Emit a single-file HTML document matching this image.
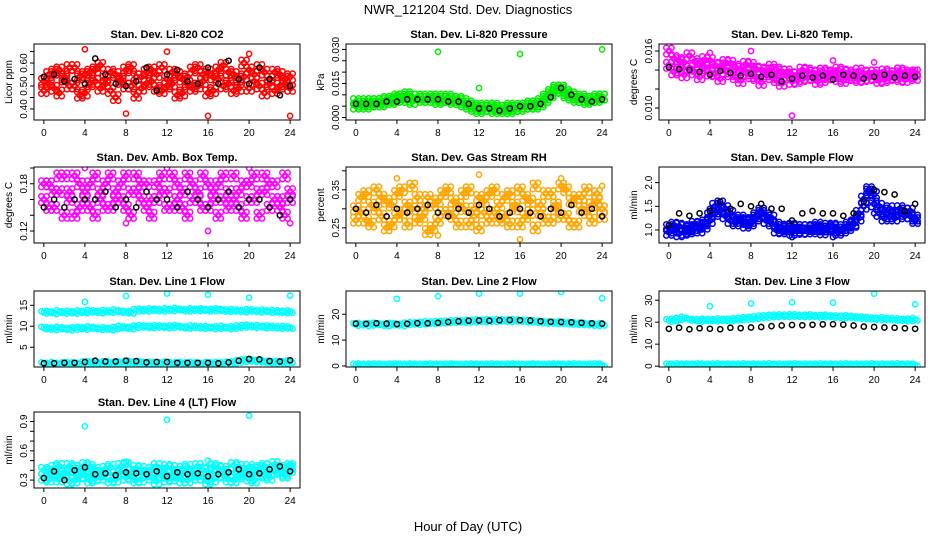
<!DOCTYPE html>
<html><head><meta charset="utf-8"><style>
html,body{margin:0;padding:0;background:#fff;}
svg{display:block;font-family:"Liberation Sans",Arial,sans-serif;}
</style></head><body>
<svg id="chart" width="936" height="540" viewBox="0 0 936 540">
<text x="468" y="14" text-anchor="middle" font-size="13">NWR_121204  Std. Dev. Diagnostics</text>
<text x="468" y="531" text-anchor="middle" font-size="13">Hour of Day (UTC)</text>
</svg>
<script>
// ---- data ----
const xTicks = [0,4,8,12,16,20,24];
const halfHours = [0,0.5,1,1.5,2,2.5,3,3.5,4,4.5,5,5.5,6,6.5,7,7.5,8,8.5,9,9.5,10,10.5,11,11.5,12,12.5,13,13.5,14,14.5,15,15.5,16,16.5,17,17.5,18,18.5,19,19.5,20,20.5,21,21.5,22,22.5,23,23.5,24];
const hours = [0,1,2,3,4,5,6,7,8,9,10,11,12,13,14,15,16,17,18,19,20,21,22,23,24];
const outlierHours = [4,8,12,16,20,24];

const co2A = [0.52,0.55,0.49,0.57,0.53,0.50,0.58,0.54,0.47,0.56,0.52,0.59,0.51,0.48,0.55,0.53,0.57,0.50,0.46,0.54,0.56,0.52,0.49,0.58,0.53,0.51,0.55,0.47,0.54,0.57,0.50,0.52,0.56,0.48,0.53,0.59,0.51,0.55,0.49,0.54,0.57,0.52,0.50,0.56,0.53,0.48,0.55,0.51,0.54];
const co2B = [0.48,0.51,0.56,0.47,0.54,0.58,0.50,0.46,0.55,0.51,0.57,0.49,0.53,0.56,0.45,0.52,0.50,0.58,0.54,0.49,0.51,0.57,0.55,0.48,0.50,0.56,0.46,0.53,0.51,0.49,0.58,0.55,0.47,0.54,0.57,0.50,0.56,0.48,0.53,0.60,0.49,0.55,0.58,0.47,0.51,0.56,0.50,0.53,0.49];
const co2Black = [0.54,0.55,0.52,0.53,0.51,0.62,0.55,0.51,0.50,0.52,0.58,0.48,0.55,0.57,0.52,0.51,0.58,0.51,0.61,0.53,0.51,0.58,0.53,0.46,0.50];
const co2Out = [0.66,0.38,0.65,0.37,0.64,0.37];

const presA = [0.007,0.006,0.007,0.007,0.007,0.006,0.008,0.008,0.008,0.009,0.008,0.009,0.009,0.008,0.009,0.008,0.009,0.008,0.009,0.008,0.008,0.007,0.006,0.005,0.005,0.004,0.004,0.005,0.004,0.004,0.005,0.004,0.005,0.005,0.005,0.006,0.006,0.008,0.010,0.012,0.013,0.011,0.010,0.009,0.009,0.008,0.008,0.009,0.009];
const presB = [0.005,0.006,0.005,0.006,0.006,0.007,0.008,0.007,0.009,0.008,0.010,0.007,0.009,0.008,0.008,0.009,0.007,0.008,0.008,0.007,0.008,0.006,0.005,0.004,0.003,0.004,0.005,0.003,0.004,0.003,0.003,0.004,0.004,0.005,0.006,0.005,0.007,0.009,0.011,0.013,0.012,0.010,0.009,0.008,0.008,0.007,0.008,0.008,0.009];
const presBlack = [0.006,0.006,0.006,0.007,0.007,0.008,0.008,0.008,0.008,0.007,0.007,0.006,0.004,0.004,0.003,0.004,0.005,0.005,0.006,0.009,0.013,0.010,0.008,0.007,0.008];
const presOut = [0.010,0.029,0.013,0.028,0.013,0.030];

const tempA = [0.0145,0.0152,0.0140,0.0148,0.0155,0.0138,0.0146,0.0142,0.0150,0.0136,0.0144,0.0139,0.0147,0.0133,0.0141,0.0137,0.0145,0.0132,0.0140,0.0136,0.0143,0.0130,0.0138,0.0134,0.0128,0.0135,0.0131,0.0139,0.0133,0.0136,0.0130,0.0137,0.0134,0.0131,0.0138,0.0133,0.0135,0.0130,0.0136,0.0132,0.0137,0.0134,0.0130,0.0136,0.0133,0.0131,0.0137,0.0134,0.0132];
const tempB = [0.0160,0.0138,0.0150,0.0135,0.0142,0.0149,0.0133,0.0151,0.0137,0.0145,0.0131,0.0148,0.0136,0.0143,0.0129,0.0146,0.0134,0.0141,0.0127,0.0139,0.0133,0.0140,0.0126,0.0138,0.0135,0.0129,0.0140,0.0132,0.0137,0.0128,0.0139,0.0133,0.0136,0.0140,0.0129,0.0137,0.0132,0.0139,0.0131,0.0137,0.0133,0.0129,0.0138,0.0132,0.0136,0.0139,0.0130,0.0135,0.0137];
const tempBlack = [0.0143,0.0141,0.0140,0.0138,0.0135,0.0139,0.0137,0.0134,0.0136,0.0133,0.0135,0.0128,0.0131,0.0134,0.0132,0.0134,0.0130,0.0135,0.0134,0.0131,0.0133,0.0135,0.0132,0.0134,0.0133];
const tempOut = [0.0158,0.0160,0.0092,0.0150,0.0148,0.0140];

const boxA = [0.16,0.18,0.15,0.17,0.19,0.16,0.14,0.18,0.17,0.15,0.19,0.16,0.18,0.15,0.17,0.16,0.19,0.14,0.17,0.18,0.15,0.16,0.18,0.17,0.15,0.19,0.16,0.17,0.14,0.18,0.16,0.19,0.15,0.17,0.18,0.16,0.15,0.19,0.17,0.14,0.18,0.16,0.17,0.19,0.15,0.18,0.16,0.14,0.17];
const boxB = [0.18,0.15,0.17,0.19,0.14,0.17,0.19,0.15,0.16,0.18,0.14,0.17,0.15,0.19,0.16,0.18,0.15,0.17,0.19,0.16,0.18,0.14,0.16,0.19,0.17,0.15,0.18,0.15,0.19,0.16,0.17,0.15,0.18,0.16,0.14,0.19,0.17,0.16,0.15,0.18,0.16,0.19,0.14,0.17,0.18,0.16,0.15,0.19,0.16];
const boxBlack = [0.15,0.16,0.15,0.16,0.16,0.16,0.17,0.15,0.16,0.15,0.17,0.16,0.16,0.15,0.17,0.16,0.15,0.16,0.17,0.15,0.16,0.16,0.15,0.14,0.16];
const boxOut = [0.20,0.13,0.20,0.12,0.20,0.13];

const rhA = [0.30,0.33,0.27,0.31,0.35,0.28,0.32,0.26,0.34,0.29,0.31,0.36,0.27,0.30,0.33,0.25,0.32,0.29,0.35,0.28,0.31,0.34,0.26,0.30,0.33,0.29,0.27,0.35,0.31,0.28,0.34,0.30,0.26,0.33,0.29,0.36,0.31,0.27,0.34,0.30,0.28,0.35,0.32,0.26,0.33,0.29,0.31,0.34,0.28];
const rhB = [0.27,0.29,0.34,0.26,0.30,0.33,0.25,0.31,0.28,0.35,0.26,0.30,0.33,0.28,0.24,0.31,0.27,0.34,0.29,0.32,0.26,0.30,0.35,0.28,0.25,0.32,0.34,0.29,0.27,0.33,0.26,0.31,0.35,0.28,0.32,0.25,0.29,0.34,0.27,0.31,0.36,0.28,0.26,0.33,0.30,0.35,0.27,0.32,0.30];
const rhBlack = [0.30,0.29,0.31,0.28,0.30,0.29,0.30,0.31,0.29,0.28,0.30,0.29,0.31,0.30,0.28,0.29,0.30,0.29,0.28,0.30,0.29,0.31,0.29,0.30,0.28];
const rhOut = [0.38,0.23,0.39,0.22,0.38,0.36];

const sfA = [1.05,1.00,1.08,0.95,1.02,1.05,1.10,1.08,1.20,1.35,1.55,1.45,1.35,1.25,1.20,1.18,1.15,1.25,1.40,1.30,1.25,1.10,1.05,1.02,1.08,1.00,1.05,0.98,1.03,1.05,1.02,1.08,1.05,1.00,1.05,1.10,1.15,1.25,1.50,1.80,1.75,1.50,1.40,1.30,1.35,1.45,1.30,1.40,1.25];
const sfB = [0.95,1.10,0.92,1.05,0.98,1.12,1.00,1.15,1.30,1.50,1.40,1.30,1.20,1.15,1.25,1.10,1.20,1.30,1.35,1.20,1.15,1.00,0.98,1.06,0.95,1.05,0.97,1.05,0.98,1.10,0.96,1.02,1.08,0.95,1.00,1.05,1.12,1.35,1.65,1.85,1.55,1.35,1.25,1.45,1.25,1.35,1.40,1.30,1.20];
const sfBlack = [1.10,1.35,1.30,1.35,1.40,1.60,1.45,1.55,1.50,1.55,1.45,1.45,1.20,1.35,1.40,1.35,1.35,1.30,1.35,1.60,1.85,1.80,1.75,1.40,1.55];
const sfOut = [1.45,1.15,0.85,0.85,1.35,1.20];

const l1A = [13.3,13.4,13.2,13.5,13.3,13.4,13.3,13.5,13.4,13.6,13.5,13.4,13.6,13.5,13.7,13.5,13.4,13.3,13.8,13.9,13.8,14.0,13.9,13.8,14.0,13.9,14.1,13.9,13.8,14.0,13.9,14.0,13.8,13.9,14.0,13.8,13.7,13.8,13.7,13.6,13.8,13.7,13.6,13.7,13.5,13.6,13.5,13.4,13.5];
const l1B = [9.6,9.5,9.4,9.6,9.5,9.3,9.5,9.6,9.5,9.7,9.6,9.4,9.5,9.3,9.6,9.8,9.7,9.6,9.9,10.0,9.9,9.8,10.0,9.9,9.8,9.9,10.0,9.8,9.7,9.9,9.8,9.7,9.8,9.6,9.7,9.8,9.6,9.7,9.9,10.0,10.1,9.9,10.0,9.8,9.9,9.8,9.7,9.8,9.7];
const l1C = [1.1,1.0,1.2,1.0,1.1,1.2,1.1,1.0,1.3,1.4,1.3,1.2,1.4,1.3,1.2,1.3,1.4,1.5,1.3,1.4,1.2,1.3,1.2,1.1,1.3,1.2,1.1,1.2,1.1,1.2,1.1,1.0,1.2,1.1,1.2,1.1,1.3,1.4,1.6,1.8,1.9,1.8,1.7,1.6,1.5,1.4,1.5,1.4,1.6];
const l1Black = [1.2,1.2,1.3,1.3,1.5,1.8,1.6,1.6,1.8,1.7,1.4,1.5,1.5,1.3,1.3,1.3,1.3,1.2,1.4,1.8,2.2,2.1,1.7,1.6,1.9];
const l1Out = [15.8,17.2,17.8,17.5,16.8,17.3];

const l2A = [16.0,16.2,15.9,16.1,16.3,16.0,15.8,16.2,16.1,15.9,16.3,16.5,16.4,16.6,16.8,16.7,16.9,17.0,17.1,17.2,17.3,17.2,17.4,17.3,17.5,17.4,17.6,17.5,17.7,17.6,17.5,17.7,17.6,17.4,17.3,17.2,17.0,16.9,16.8,16.7,16.8,16.6,16.5,16.4,16.3,16.2,16.0,15.9,16.1];
const l2C = [0.4,0.5,0.3,0.4,0.5,0.4,0.3,0.4,0.5,0.4,0.3,0.5,0.4,0.3,0.4,0.5,0.4,0.3,0.4,0.5,0.4,0.3,0.4,0.5,0.4,0.3,0.4,0.5,0.4,0.3,0.4,0.5,0.4,0.3,0.4,0.5,0.4,0.3,0.4,0.5,0.4,0.3,0.4,0.5,0.4,0.3,0.4,0.5,0.4];
const l2Black = [16.4,16.3,16.5,16.4,16.2,16.3,16.6,16.5,16.7,17.0,17.3,17.5,17.6,17.5,17.7,17.8,17.7,17.6,17.3,17.1,17.0,16.9,16.7,16.5,16.4];
const l2Out = [26.0,27.0,28.0,28.0,28.6,26.2];

const l3A = [20.8,21.0,21.5,22.0,21.3,21.0,20.8,21.1,21.0,20.9,21.2,21.0,21.1,21.3,21.5,21.7,21.9,22.1,22.4,22.6,22.8,22.9,23.0,22.9,23.1,23.0,22.8,22.9,23.0,22.7,22.8,22.9,22.6,22.5,22.4,22.6,22.3,22.1,22.0,21.8,21.6,21.5,21.7,21.4,21.3,21.2,21.0,21.1,21.3];
const l3C = [0.6,0.5,0.7,0.5,0.6,0.5,0.7,0.6,0.5,0.6,0.7,0.5,0.6,0.5,0.6,0.7,0.5,0.6,0.5,0.6,0.7,0.5,0.6,0.5,0.6,0.7,0.5,0.6,0.5,0.6,0.7,0.5,0.6,0.5,0.6,0.7,0.5,0.6,0.5,0.6,0.7,0.5,0.6,0.5,0.6,0.7,0.5,0.6,0.5];
const l3Black = [17.0,17.5,16.8,17.2,17.0,16.8,17.5,17.3,17.6,17.8,18.2,18.5,18.7,18.6,18.8,19.0,19.1,18.9,18.5,18.0,17.8,17.6,17.5,17.2,17.0];
const l3Out = [27.3,28.5,29.0,28.9,33.0,28.2];

const l4A = [0.33,0.38,0.42,0.31,0.36,0.44,0.30,0.39,0.35,0.43,0.32,0.37,0.41,0.30,0.36,0.44,0.33,0.38,0.42,0.31,0.37,0.40,0.29,0.35,0.43,0.32,0.38,0.41,0.30,0.36,0.44,0.33,0.39,0.31,0.42,0.35,0.38,0.30,0.43,0.36,0.32,0.40,0.37,0.44,0.33,0.39,0.42,0.35,0.41];
const l4B = [0.40,0.31,0.35,0.44,0.38,0.29,0.42,0.34,0.45,0.30,0.40,0.33,0.36,0.43,0.31,0.38,0.45,0.34,0.30,0.41,0.36,0.33,0.44,0.39,0.31,0.42,0.35,0.30,0.43,0.38,0.33,0.40,0.29,0.44,0.36,0.41,0.31,0.45,0.34,0.39,0.43,0.30,0.42,0.35,0.38,0.46,0.40,0.37,0.44];
const l4Black = [0.32,0.39,0.30,0.40,0.43,0.36,0.37,0.35,0.38,0.37,0.36,0.39,0.34,0.38,0.36,0.37,0.34,0.36,0.38,0.41,0.36,0.37,0.41,0.44,0.39];
const l4Out = [0.85,0.49,0.92,0.50,0.96,0.46];

// ---- layout ----
const svg = document.getElementById('chart');
const NS = 'http://www.w3.org/2000/svg';
const colLeft = [34,346,659], boxW = 266;
const rowTop = [44,167,291,412], boxH = 76;
const xMin = -0.96, xMax = 24.96;
// marker cluster pattern (pixel offsets, styling only) to mimic dense overplotting
const cloud = [[0,0],[-2.6,-3.2],[2.6,3.2],[2.6,-3.2],[-2.6,3.2]];
const band = [[0,0],[-2.5,-1.2],[2.5,1.2]];

const panels = [
 {name:'co2',title:'Stan. Dev. Li-820 CO2',ylab:'Licor ppm',col:'#ff0000',r:0,c:0,ymin:0.352,ymax:0.683,ticks:[0.40,0.45,0.50,0.55,0.60,0.65],labels:['0.40','0.45','0.50','0.55','0.60','0.65'],showLab:[1,0,1,0,1,0],A:co2A,B:co2B,K:co2Black,O:co2Out,pat:cloud},
 {name:'pressure',title:'Stan. Dev. Li-820 Pressure',ylab:'kPa',col:'#00ee00',r:0,c:1,ymin:-0.0011,ymax:0.0324,ticks:[0,0.005,0.010,0.015,0.020,0.025,0.030],labels:['0.000','0.005','0.010','0.015','0.020','0.025','0.030'],showLab:[1,0,0,1,0,0,1],A:presA,B:presB,K:presBlack,O:presOut,pat:cloud},
 {name:'temp',title:'Stan. Dev. Li-820 Temp.',ylab:'degrees C',col:'#ff00ff',r:0,c:2,ymin:0.00874,ymax:0.01674,ticks:[0.010,0.012,0.014,0.016],labels:['0.010','0.012','0.014','0.016'],showLab:[1,0,0,1],A:tempA,B:tempB,K:tempBlack,O:tempOut,pat:cloud},
 {name:'amb-box-temp',title:'Stan. Dev. Amb. Box Temp.',ylab:'degrees C',col:'#ff00ff',r:1,c:0,ymin:0.1048,ymax:0.2013,ticks:[0.12,0.14,0.16,0.18,0.20],labels:['0.12','0.14','0.16','0.18','0.20'],showLab:[1,0,0,1,0],A:boxA,B:boxB,K:boxBlack,O:boxOut,pat:cloud},
 {name:'gas-rh',title:'Stan. Dev. Gas Stream RH',ylab:'percent',col:'#ffa500',r:1,c:1,ymin:0.21,ymax:0.41,ticks:[0.25,0.30,0.35,0.40],labels:['0.25','0.30','0.35','0.40'],showLab:[1,0,1,0],A:rhA,B:rhB,K:rhBlack,O:rhOut,pat:cloud},
 {name:'sample-flow',title:'Stan. Dev. Sample Flow',ylab:'ml/min',col:'#0000ee',r:1,c:2,ymin:0.725,ymax:2.33,ticks:[1.0,1.5,2.0],labels:['1.0','1.5','2.0'],showLab:[1,1,1],A:sfA,B:sfB,K:sfBlack,O:sfOut,pat:cloud},
 {name:'line1-flow',title:'Stan. Dev. Line 1 Flow',ylab:'ml/min',col:'#00ffff',r:2,c:0,ymin:0.3,ymax:18.4,ticks:[5,10,15],labels:['5','10','15'],showLab:[1,1,1],A:l1A,B:l1B,C:l1C,K:l1Black,O:l1Out,pat:band},
 {name:'line2-flow',title:'Stan. Dev. Line 2 Flow',ylab:'ml/min',col:'#00ffff',r:2,c:1,ymin:-0.4,ymax:29.0,ticks:[0,10,20],labels:['0','10','20'],showLab:[1,1,1],A:l2A,C:l2C,K:l2Black,O:l2Out,pat:band},
 {name:'line3-flow',title:'Stan. Dev. Line 3 Flow',ylab:'ml/min',col:'#00ffff',r:2,c:2,ymin:-0.4,ymax:34.2,ticks:[0,10,20,30],labels:['0','10','20','30'],showLab:[1,1,1,1],A:l3A,C:l3C,K:l3Black,O:l3Out,pat:band},
 {name:'line4-flow',title:'Stan. Dev. Line 4 (LT) Flow',ylab:'ml/min',col:'#00ffff',r:3,c:0,ymin:0.219,ymax:0.998,ticks:[0.3,0.4,0.5,0.6,0.7,0.8,0.9],labels:['0.3','0.4','0.5','0.6','0.7','0.8','0.9'],showLab:[1,0,0,1,0,0,1],A:l4A,B:l4B,K:l4Black,O:l4Out,pat:cloud}
];

function mk(tag, attrs, parent){
  const e = document.createElementNS(NS, tag);
  for (const k in attrs) e.setAttribute(k, attrs[k]);
  (parent||svg).appendChild(e);
  return e;
}

panels.forEach(p => {
  const L = colLeft[p.c], T = rowTop[p.r];
  const xs = t => L + (t - xMin) / (xMax - xMin) * boxW;
  const ys = v => T + boxH - (v - p.ymin) / (p.ymax - p.ymin) * boxH;
  const g = mk('g', {});
  
  

  const clip = mk('clipPath', {id:'clip-' + p.name}, g);
  mk('rect', {x:L, y:T, width:boxW, height:boxH}, clip);

  const pts = mk('g', {'clip-path':'url(#clip-' + p.name + ')'}, g);
  
  
  function dots(times, vals, color, nm, pattern){
    vals.forEach((v, i) => {
      const cx = xs(times[i]), cy = ys(v);
      pattern.forEach(o => {
        const c = mk('circle', {cx:(cx + o[0]).toFixed(1), cy:(cy + o[1]).toFixed(1), r:2.6, fill:'none', stroke:color, 'stroke-width':1.5}, pts);
        
        
      });
    });
  }
  const single = [[0,0]];
  if (p.C) dots(halfHours, p.C, p.col, 'point-' + p.name + '-low', p.pat);
  if (p.B) dots(halfHours, p.B, p.col, 'point-' + p.name + '-b', p.pat);
  dots(halfHours, p.A, p.col, 'point-' + p.name, p.pat);
  dots(outlierHours, p.O, p.col, 'outlier-' + p.name, single);
  dots(hours, p.K, '#000', 'mean-point-' + p.name, single);

  const box = mk('rect', {x:L, y:T, width:boxW, height:boxH, fill:'none', stroke:'#000', 'stroke-width':1}, g);
  
  

  const tt = mk('text', {x:L + boxW/2, y:T - 6, 'text-anchor':'middle', 'font-size':11, 'font-weight':'bold'}, g);
  tt.textContent = p.title;
  
  

  const by = T + boxH;
  mk('line', {x1:xs(xTicks[0]), x2:xs(xTicks[xTicks.length-1]), y1:by, y2:by, stroke:'#000'}, g);
  xTicks.forEach(t => {
    mk('line', {x1:xs(t), x2:xs(t), y1:by, y2:by + 4, stroke:'#000'}, g);
    const lb = mk('text', {x:xs(t), y:by + 16, 'text-anchor':'middle', 'font-size':10}, g);
    lb.textContent = String(t);
    
    
  });

  mk('line', {x1:L, x2:L, y1:ys(p.ticks[0]), y2:ys(p.ticks[p.ticks.length-1]), stroke:'#000'}, g);
  p.ticks.forEach((v, i) => {
    const y = ys(v);
    mk('line', {x1:L - 4, x2:L, y1:y, y2:y, stroke:'#000'}, g);
    if (p.showLab[i]) {
      const lb = mk('text', {x:L - 7, y:y, 'text-anchor':'middle', 'font-size':10, transform:'rotate(-90 ' + (L - 7) + ' ' + y + ')'}, g);
      lb.textContent = p.labels[i];
      
      
    }
  });
  const yl = mk('text', {x:L - 22, y:T + boxH/2, 'text-anchor':'middle', 'font-size':10, transform:'rotate(-90 ' + (L - 22) + ' ' + (T + boxH/2) + ')'}, g);
  yl.textContent = p.ylab;
  
  
});
</script>
</body></html>
